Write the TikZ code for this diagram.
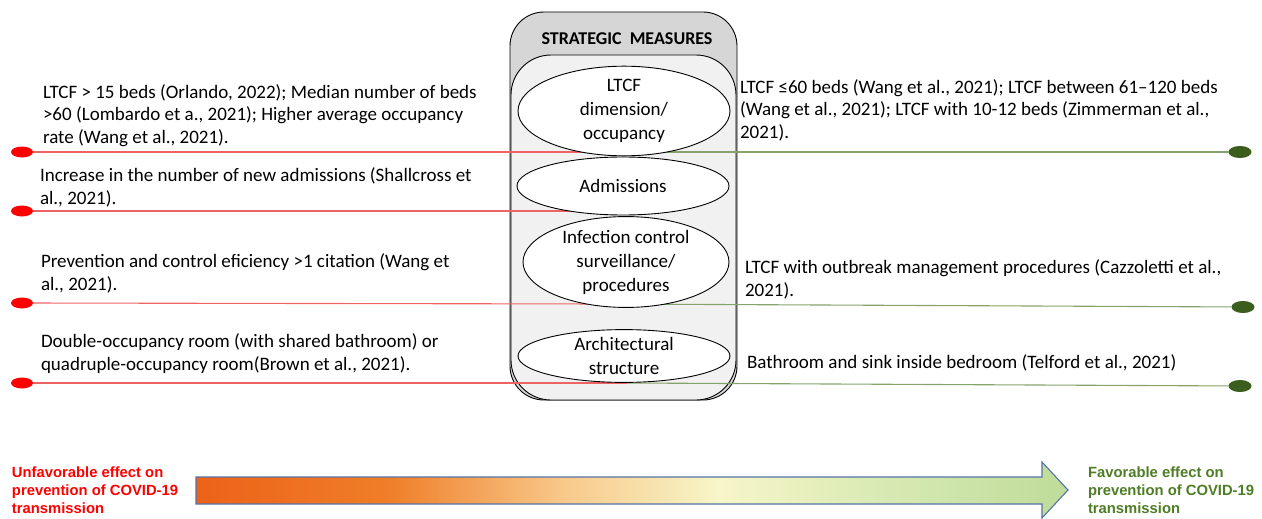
\documentclass[tikz,border=0pt]{standalone}
\usepackage{fontspec}
\setmainfont{Carlito}
\newfontfamily\labelfont{Liberation Sans}
\usetikzlibrary{shapes.geometric}

\definecolor{hdrgray}{HTML}{D6D6D6}
\definecolor{innergray}{HTML}{F1F1F1}
\definecolor{badred}{HTML}{FF0000}
\definecolor{badline}{HTML}{EE6464}
\definecolor{goodline}{HTML}{86A36C}
\definecolor{gooddot}{HTML}{3B5E1F}
\definecolor{goodtext}{HTML}{4E7D26}
\definecolor{arrowedge}{HTML}{5473A8}
\definecolor{sh0}{HTML}{E5380C}
\definecolor{sh1}{HTML}{EB5512}
\definecolor{sh2}{HTML}{EF7E28}
\definecolor{sh3}{HTML}{F8C88A}
\definecolor{sh4}{HTML}{F7F6C8}
\definecolor{sh5}{HTML}{D6E9B2}
\definecolor{sh6}{HTML}{A9D083}
\definecolor{sh7}{HTML}{82B454}

\pgfdeclarehorizontalshading{effectshade}{100bp}{%
  color(0bp)=(sh0);
  color(20bp)=(sh1);
  color(36bp)=(sh2);
  color(46bp)=(sh3);
  color(55bp)=(sh4);
  color(65bp)=(sh5);
  color(84bp)=(sh6);
  color(100bp)=(sh7)}

\tikzset{
  every node/.style={inner sep=0pt, outer sep=0pt},
  cite/.style={anchor=base west, align=left, font=\fontsize{19}{22.5}\selectfont},
  measure/.style={ellipse, draw=black, line width=0.9pt, fill=white, minimum width=212pt,
    align=center, font=\fontsize{19}{24}\selectfont},
  reddot/.style={ellipse, fill=badred, minimum width=22pt, minimum height=11pt},
  greendot/.style={ellipse, fill=gooddot, minimum width=23pt, minimum height=12pt},
  redlink/.style={draw=badline, line width=1.1pt},
  greenlink/.style={draw=goodline, line width=1.1pt},
  effect/.style={anchor=base west, align=left, font=\labelfont\bfseries\fontsize{14.8}{18}\selectfont}
}

\begin{document}
\begin{tikzpicture}[x=1pt, y=-1pt]
\useasboundingbox (0,0) rectangle (1262,519);

% central panel: grey header with lighter body
\draw[fill=hdrgray, line width=0.9pt, rounded corners=34pt] (510,12) rectangle (737,400);
\draw[fill=innergray, line width=0.9pt, rounded corners=40pt] (511,55) rectangle (736,400);
\node[font=\bfseries\fontsize{18}{20}\selectfont] (hdr) at (627,39) {STRATEGIC\ \ MEASURES};

% end points of each row
\node[reddot] (l1) at (22,152) {};
\node[reddot] (l2) at (22,211) {};
\node[reddot] (l3) at (22,303) {};
\node[reddot] (l4) at (22,383) {};
\node[greendot] (r1) at (1240,152) {};
\node[greendot] (r3) at (1243,307) {};
\node[greendot] (r4) at (1240,386) {};
\coordinate (m1) at (633,152);
\coordinate (m2) at (573,211);
\coordinate (m3) at (610,304);
\coordinate (m4) at (627,383);

\draw[redlink] (l1) -- (m1);
\draw[greenlink] (m1) -- (r1);
\draw[redlink] (l2) -- (m2);
\draw[redlink] (l3) -- (m3);
\draw[greenlink] (m3) -- (r3);
\draw[redlink] (l4) -- (m4);
\draw[greenlink] (m4) -- (r4);

% strategic measures
\node[measure, minimum height=78pt] (e1) at (624,111) {LTCF\\dimension/\\occupancy};
\node[measure, minimum height=58pt] (e2) at (623,186) {Admissions};
\node[measure, minimum width=206pt, minimum height=81pt] (e3) at (626,262) {Infection control\\surveillance/\\procedures};
\node[measure, minimum height=46pt] (e4) at (624,356) {Architectural\\structure};

% unfavourable findings (anchored at the baseline of the last line)
\node[cite] (t1) at (43,143) {LTCF > 15 beds (Orlando, 2022); Median number of beds\\>60 (Lombardo et a., 2021); Higher average occupancy\\rate (Wang et al., 2021).};
\node[cite] (t2) at (40,204) {Increase in the number of new admissions (Shallcross et\\al., 2021).};
\node[cite] (t3) at (41,290) {Prevention and control eficiency >1 citation (Wang et\\al., 2021).};
\node[cite] (t4) at (41,370) {Double-occupancy room (with shared bathroom) or\\quadruple-occupancy room(Brown et al., 2021).};

% favourable findings
\node[cite] (s1) at (740,138) {LTCF ≤60 beds (Wang et al., 2021); LTCF between 61–120 beds\\(Wang et al., 2021); LTCF with 10-12 beds (Zimmerman et al.,\\2021).};
\node[cite] (s3) at (745,296) {LTCF with outbreak management procedures (Cazzoletti et al.,\\2021).};
\node[cite] (s4) at (747,368) {Bathroom and sink inside bedroom (Telford et al., 2021)};

% effect scale
\shade[shading=effectshade, draw=arrowedge, line width=1.1pt]
  (196,477) -- (1042,477) -- (1042,462) -- (1068,490) -- (1042,518) -- (1042,504) -- (196,504) -- cycle;
\node[effect, text=badred] (bad) at (12,513) {Unfavorable effect on\\prevention of COVID-19\\transmission};
\node[effect, text=goodtext] (good) at (1088,513) {Favorable effect on\\prevention of COVID-19\\transmission};
\end{tikzpicture}
\end{document}
